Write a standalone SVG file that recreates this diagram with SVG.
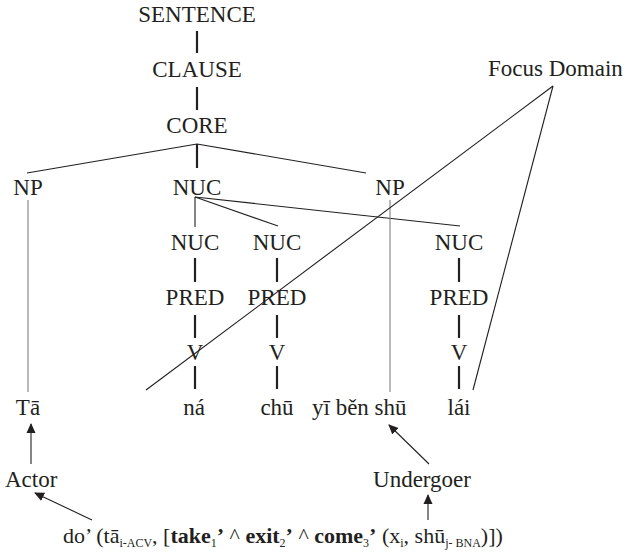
<svg xmlns="http://www.w3.org/2000/svg" width="626" height="553" viewBox="0 0 626 553">
  <style>
    text { font-family: "Liberation Serif", "DejaVu Serif", serif; font-size: 23px; fill: #231f20; }
    .c { text-anchor: middle; }
    .b { font-weight: bold; }
    .ls { font-size: 22px; }
    .sub { font-size: 12px; }
    .thick { stroke: #231f20; stroke-width: 2.2; fill: none; }
    .thin { stroke: #231f20; stroke-width: 1.1; fill: none; }
    .gray { stroke: #808080; stroke-width: 1.1; fill: none; }
    .arr { stroke: #231f20; stroke-width: 1.1; fill: none; marker-end: url(#head); }
  </style>
  <defs>
    <marker id="head" viewBox="0 0 10 10" refX="9" refY="5" markerWidth="10" markerHeight="10" markerUnits="userSpaceOnUse" orient="auto">
      <path d="M0,0.5 L10,5 L0,9.5 z" fill="#231f20"/>
    </marker>
  </defs>

  <!-- tree edges, focus-domain lines and role arrows -->
  <g id="connectors">
    <line class="thick" x1="197" y1="31" x2="197" y2="53"/>
    <line class="thick" x1="197" y1="87" x2="197" y2="110"/>
    <line class="thick" x1="197" y1="144" x2="197" y2="168"/>
    <line class="thin" x1="197" y1="144" x2="27" y2="173"/>
    <line class="thin" x1="197" y1="144" x2="366" y2="173"/>
    <line class="thin" x1="195" y1="197" x2="195" y2="227"/>
    <line class="thin" x1="195" y1="197" x2="278" y2="226"/>
    <line class="thin" x1="195" y1="197" x2="460" y2="226"/>
    <line class="gray" x1="28" y1="200" x2="28" y2="392"/>
    <line class="gray" x1="390" y1="200" x2="390" y2="392"/>
    <line class="thick" x1="195" y1="258" x2="195" y2="282"/>
    <line class="thick" x1="277" y1="258" x2="277" y2="282"/>
    <line class="thick" x1="459" y1="258" x2="459" y2="282"/>
    <line class="thick" x1="195" y1="315" x2="195" y2="338"/>
    <line class="thick" x1="277" y1="315" x2="277" y2="338"/>
    <line class="thick" x1="459" y1="315" x2="459" y2="338"/>
    <line class="thick" x1="195" y1="366" x2="195" y2="389"/>
    <line class="thick" x1="277" y1="366" x2="277" y2="389"/>
    <line class="thick" x1="459" y1="366" x2="459" y2="389"/>
    <line class="thin" x1="553" y1="86" x2="146" y2="390"/>
    <line class="thin" x1="553" y1="86" x2="473" y2="390"/>
    <line class="arr" x1="31" y1="464" x2="31" y2="424"/>
    <line class="arr" x1="429" y1="464" x2="389" y2="425"/>
    <line class="arr" x1="92" y1="520" x2="35" y2="493"/>
    <line class="arr" x1="428" y1="520" x2="428" y2="495"/>
  </g>

  <g id="sentence"><text class="c" x="197" y="22">SENTENCE</text></g>
  <g id="clause"><text class="c" x="197" y="77">CLAUSE</text></g>
  <g id="core"><text class="c" x="197" y="133">CORE</text></g>
  <g id="focus-domain"><text x="488" y="76">Focus Domain</text></g>
  <g id="np1"><text class="c" x="28" y="195">NP</text></g>
  <g id="nuc"><text class="c" x="197" y="195">NUC</text></g>
  <g id="np2"><text class="c" x="390" y="195">NP</text></g>
  <g id="nuc1"><text class="c" x="195" y="250">NUC</text></g>
  <g id="nuc2"><text class="c" x="277" y="250">NUC</text></g>
  <g id="nuc3"><text class="c" x="459" y="250">NUC</text></g>
  <g id="pred1"><text class="c" x="195" y="305">PRED</text></g>
  <g id="pred2"><text class="c" x="277" y="305">PRED</text></g>
  <g id="pred3"><text class="c" x="459" y="305">PRED</text></g>
  <g id="v1"><text class="c" x="195" y="360">V</text></g>
  <g id="v2"><text class="c" x="277" y="360">V</text></g>
  <g id="v3"><text class="c" x="459" y="360">V</text></g>
  <g id="ta"><text class="c" x="28" y="415">Tā</text></g>
  <g id="na"><text class="c" x="194" y="415">ná</text></g>
  <g id="chu"><text class="c" x="277" y="415">chū</text></g>
  <g id="yi-ben-shu"><text x="312" y="415">yī běn shū</text></g>
  <g id="lai"><text class="c" x="459" y="415">lái</text></g>
  <g id="actor"><text x="5" y="487">Actor</text></g>
  <g id="undergoer"><text class="c" x="422" y="487">Undergoer</text></g>

  <g id="logical-structure">
    <text class="ls" x="63" y="543">do’ (tā<tspan class="sub" dy="4">i-ACV</tspan><tspan dy="-4">, [</tspan><tspan class="b">take</tspan><tspan class="sub" dy="4">1</tspan><tspan class="b" dy="-4">’</tspan> ^ <tspan class="b">exit</tspan><tspan class="sub" dy="4">2</tspan><tspan class="b" dy="-4">’</tspan> ^ <tspan class="b">come</tspan><tspan class="sub" dy="4">3</tspan><tspan class="b" dy="-4">’</tspan> (x<tspan class="sub" dy="4">i</tspan><tspan dy="-4">, shū</tspan><tspan class="sub" dy="4">j- BNA</tspan><tspan dy="-4">)])</tspan></text>
  </g>
</svg>
